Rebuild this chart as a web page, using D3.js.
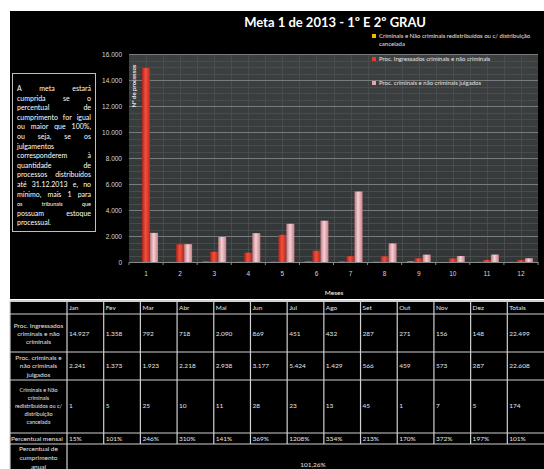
<!doctype html>
<html lang="pt">
<head>
<meta charset="utf-8">
<title>Meta 1 de 2013 - 1º E 2º GRAU</title>
<script src="https://d3js.org/d3.v7.min.js"></script>
<style>
  body { margin: 0; background: #fff; }
  svg { display: block; font-family: Lato, "Open Sans", sans-serif; }
</style>
</head>
<body>
<svg width="544" height="469"></svg>
<script>
var meses = [1, 2, 3, 4, 5, 6, 7, 8, 9, 10, 11, 12];
var mesesAbrev = ["Jan", "Fev", "Mar", "Abr", "Mai", "Jun", "Jul", "Ago", "Set", "Out", "Nov", "Dez"];
var ingressados = [14927, 1358, 792, 718, 2090, 869, 451, 432, 287, 271, 156, 148];
var julgados = [2241, 1373, 1923, 2218, 2938, 3177, 5424, 1429, 566, 459, 573, 287];
var redistribuidos = [1, 5, 25, 10, 11, 28, 23, 13, 45, 1, 7, 5];
var percentualMensal = ["15%", "101%", "246%", "310%", "141%", "369%", "1208%", "334%", "213%", "170%", "372%", "197%"];
var percentualTotal = "101%";
var percentualAnual = "101,26%";
var yTicks = [0, 2000, 4000, 6000, 8000, 10000, 12000, 14000, 16000];

var series = [
  { key: "redist", nome: "Criminais e Não criminais redistribuídos ou c/ distribuição", nome2: "cancelada", valores: redistribuidos, cor: "url(#gAmarelo)", marca: "#f2b705" },
  { key: "ingr", nome: "Proc. Ingressados criminais e não criminais", valores: ingressados, cor: "url(#gVermelho)", marca: "#e8392c" },
  { key: "julg", nome: "Proc. criminais e não criminais julgados", valores: julgados, cor: "url(#gRosa)", marca: "#eaa3aa" }
];

var br = d3.formatLocale({ decimal: ",", thousands: ".", grouping: [3], currency: ["", ""] });
var fmt = br.format(",d");

var svg = d3.select("svg");
var defs = svg.append("defs");

function grad(id, c1, c2, c3) {
  var g = defs.append("linearGradient").attr("id", id).attr("x1", "0").attr("x2", "1").attr("y1", "0").attr("y2", "0");
  g.append("stop").attr("offset", "0").attr("stop-color", c1);
  g.append("stop").attr("offset", "0.45").attr("stop-color", c2);
  g.append("stop").attr("offset", "1").attr("stop-color", c3);
}
grad("gVermelho", "#b0241a", "#f4503e", "#b8281c");
grad("gRosa", "#bd7a84", "#f7d0d4", "#c4818a");
grad("gAmarelo", "#c98c00", "#ffd24a", "#c98c00");

var bg = defs.append("linearGradient").attr("id", "gFundo").attr("x1", "0").attr("x2", "0").attr("y1", "0").attr("y2", "1");
bg.append("stop").attr("offset", "0").attr("stop-color", "#3d4041");
bg.append("stop").attr("offset", "1").attr("stop-color", "#333637");

// painel preto do grafico
svg.append("rect").attr("x", 10).attr("y", 11).attr("width", 534).attr("height", 288).attr("fill", "#000");

var pLeft = 129, pRight = 538, pTop = 54, pBottom = 262;
var x = d3.scaleBand().domain(meses).range([pLeft, pRight]);
var y = d3.scaleLinear().domain([0, 16000]).range([pBottom, pTop]);
var barW = 8;
var xs = d3.scaleBand().domain(series.map(function(s) { return s.key; })).range([-barW * 1.5, barW * 1.5]);

// area de plotagem
svg.append("rect").attr("x", pLeft).attr("y", pTop).attr("width", pRight - pLeft).attr("height", pBottom - pTop).attr("fill", "url(#gFundo)");

// grade menor
svg.append("g").selectAll("line")
  .data(d3.range(500, 16000, 500).filter(function(v) { return v % 2000 != 0; }))
  .enter().append("line")
  .attr("x1", pLeft).attr("x2", pRight)
  .attr("y1", function(d) { return Math.round(y(d)) + 0.5; }).attr("y2", function(d) { return Math.round(y(d)) + 0.5; })
  .attr("stroke", "#4d5152").attr("stroke-width", 0.8);

var vx = [];
meses.forEach(function(m) { vx.push(x(m)); vx.push(x(m) + x.bandwidth() / 2); });
svg.append("g").selectAll("line")
  .data(vx.slice(1))
  .enter().append("line")
  .attr("x1", function(d) { return Math.round(d) + 0.5; }).attr("x2", function(d) { return Math.round(d) + 0.5; })
  .attr("y1", pTop).attr("y2", pBottom)
  .attr("stroke", "#4d5152").attr("stroke-width", 0.8);

// grade maior
svg.append("g").selectAll("line")
  .data(yTicks.slice(1))
  .enter().append("line")
  .attr("x1", pLeft).attr("x2", pRight)
  .attr("y1", function(d) { return Math.round(y(d)) + 0.5; }).attr("y2", function(d) { return Math.round(y(d)) + 0.5; })
  .attr("stroke", "#777b7d").attr("stroke-width", 1);

// eixo y
var gy = svg.append("g")
  .attr("transform", "translate(" + pLeft + ",0)")
  .call(d3.axisLeft(y).tickValues(yTicks).tickFormat(fmt).tickSize(0).tickPadding(7));
gy.select(".domain").remove();
gy.selectAll("text").attr("fill", "#d9d9d9").style("font-size", "6.5px");

// eixo x
var gx = svg.append("g")
  .attr("transform", "translate(0," + pBottom + ")")
  .call(d3.axisBottom(x).tickSize(0).tickPadding(9));
gx.select(".domain").attr("stroke", "#8a8a8a");
gx.selectAll("text").attr("fill", "#d9d9d9").style("font-size", "6.5px");
svg.append("g").selectAll("line")
  .data(meses.map(function(m) { return x(m); }).concat([pRight]))
  .enter().append("line")
  .attr("x1", function(d) { return d; }).attr("x2", function(d) { return d; })
  .attr("y1", pBottom).attr("y2", pBottom + 3)
  .attr("stroke", "#8a8a8a");

// barras
series.forEach(function(s) {
  svg.append("g").selectAll("rect")
    .data(s.valores)
    .enter().append("rect")
    .attr("x", function(d, i) { return x(meses[i]) + x.bandwidth() / 2 + xs(s.key); })
    .attr("y", function(d) { return y(d); })
    .attr("width", xs.bandwidth())
    .attr("height", function(d) { return pBottom - y(d); })
    .attr("fill", s.cor);
});

// titulos
svg.append("text").attr("x", 335).attr("y", 27).attr("text-anchor", "middle")
  .attr("fill", "#fff").style("font-size", "13px").style("font-weight", "bold")
  .text("Meta 1 de 2013 - 1º E 2º GRAU");
svg.append("text").attr("x", 334).attr("y", 295).attr("text-anchor", "middle")
  .attr("fill", "#fff").style("font-size", "6.5px")
  .text("Meses");
svg.append("text")
  .attr("transform", "translate(136," + 86 + ") rotate(-90)")
  .attr("text-anchor", "middle")
  .attr("fill", "#e6e6e6").style("font-size", "6px").style("font-weight", "bold")
  .text("Nº de processos");

// legenda
var legY = [38, 61, 85];
series.forEach(function(s, i) {
  svg.append("rect").attr("x", 372).attr("y", legY[i] - 4).attr("width", 4).attr("height", 4).attr("fill", s.marca);
  svg.append("text").attr("x", 379).attr("y", legY[i]).attr("fill", "#e6e6e6").style("font-size", "6px").text(s.nome);
  if (s.nome2) svg.append("text").attr("x", 379).attr("y", legY[i] + 8).attr("fill", "#e6e6e6").style("font-size", "6px").text(s.nome2);
});

// caixa de texto explicativa
var caixa = [
  "A meta estará", "cumprida se o", "percentual de", "cumprimento for igual",
  "ou maior que 100%,", "ou seja, se os", "julgamentos", "corresponderem à",
  "quantidade de", "processos distribuídos", "até 31.12.2013 e, no", "mínimo, mais 1 para",
  "os tribunais que", "possuam estoque", "processual."
];
svg.append("rect").attr("x", 12.5).attr("y", 73.5).attr("width", 83).attr("height", 158)
  .attr("fill", "#000").attr("stroke", "#bfbfbf").attr("stroke-width", 1);
var bx0 = 17, bx1 = 91;
caixa.forEach(function(linha, i) {
  var ly = 91 + i * 9.6;
  var size = (i == 12) ? 5.5 : 7;
  var words = linha.split(" ");
  var g = svg.append("g");
  var nodes = words.map(function(w) {
    return g.append("text").attr("y", ly).attr("fill", "#fff").style("font-size", size + "px").text(w);
  });
  var widths = nodes.map(function(n) { return n.node().getComputedTextLength(); });
  if (words.length == 1 || i == caixa.length - 1) {
    var px = bx0;
    nodes.forEach(function(n, k) { n.attr("x", px); px += widths[k] + 2; });
  } else {
    var gap = (bx1 - bx0 - d3.sum(widths)) / (words.length - 1);
    var px2 = bx0;
    nodes.forEach(function(n, k) { n.attr("x", px2); px2 += widths[k] + gap; });
  }
});

// tabela
var colEdges = [10, 67];
var cw = (544 - 67) / 13;
for (var c = 1; c <= 13; c++) colEdges.push(67 + c * cw);
var rowEdges = [301, 314, 352, 380, 433, 444];

svg.append("rect").attr("x", 10).attr("y", 301).attr("width", 534).attr("height", 180).attr("fill", "#000");

var linhas = [
  { rotulo: ["Proc. Ingressados", "criminais e não", "criminais"], ry: [326, 334, 342], vy: 334, size: 6.5,
    valores: ingressados.map(fmt).concat([fmt(d3.sum(ingressados))]) },
  { rotulo: ["Proc. criminais e", "não criminais", "julgados"], ry: [358, 366, 375], vy: 366, size: 6.5,
    valores: julgados.map(fmt).concat([fmt(d3.sum(julgados))]) },
  { rotulo: ["Criminais e Não", "criminais", "redistribuídos ou c/", "distribuição", "cancelada"], ry: [390, 398, 406, 414, 422], vy: 406, size: 5.5,
    valores: redistribuidos.map(fmt).concat([fmt(d3.sum(redistribuidos))]) },
  { rotulo: ["Percentual mensal"], ry: [439], vy: 439, size: 6.5, esquerda: true,
    valores: percentualMensal.concat([percentualTotal]) }
];

var tcor = "#e6e6e6";
// cabecalho
mesesAbrev.concat(["Totais"]).forEach(function(h, i) {
  svg.append("text").attr("x", colEdges[i + 1] + 2).attr("y", 310).attr("fill", tcor).style("font-size", "6.5px").text(h);
});

linhas.forEach(function(l) {
  l.rotulo.forEach(function(t, k) {
    svg.append("text")
      .attr("x", l.esquerda ? 11 : (colEdges[0] + colEdges[1]) / 2)
      .attr("y", l.ry[k] + 2)
      .attr("text-anchor", l.esquerda ? "start" : "middle")
      .attr("fill", tcor).style("font-size", l.size + "px").text(t);
  });
  l.valores.forEach(function(v, i) {
    svg.append("text").attr("x", colEdges[i + 1] + 2).attr("y", l.vy + 2.3)
      .attr("fill", tcor).style("font-size", "6.5px").text(v);
  });
});

// ultima linha
["Percentual de", "cumprimento", "anual"].forEach(function(t, k) {
  svg.append("text").attr("x", (colEdges[0] + colEdges[1]) / 2).attr("y", 451 + k * 9)
    .attr("text-anchor", "middle").attr("fill", tcor).style("font-size", "6.5px").text(t);
});
svg.append("text").attr("x", 313).attr("y", 467).attr("text-anchor", "middle")
  .attr("fill", tcor).style("font-size", "6.5px").text(percentualAnual);

// linhas da tabela
var grade = svg.append("g").attr("stroke", "#d0d0d0").attr("stroke-width", 1.2).attr("fill", "none");
rowEdges.forEach(function(ry, k) {
  grade.append("line").attr("x1", 10).attr("x2", 544).attr("y1", ry).attr("y2", ry)
    .attr("stroke-width", k == 0 ? 2 : 1.2);
});
grade.append("line").attr("x1", 10).attr("x2", 10).attr("y1", 301).attr("y2", 480);
grade.append("line").attr("x1", 67).attr("x2", 67).attr("y1", 301).attr("y2", 480);
colEdges.slice(2, 14).forEach(function(cx) {
  grade.append("line").attr("x1", cx).attr("x2", cx).attr("y1", 301).attr("y2", 444);
});
</script>
</body>
</html>
